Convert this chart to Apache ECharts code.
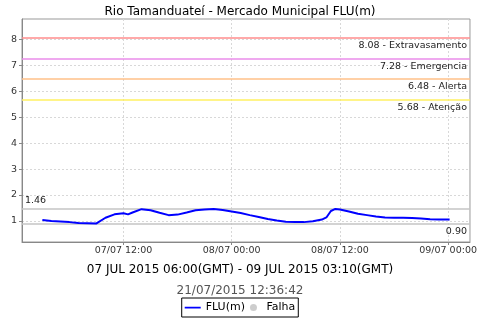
<!DOCTYPE html>
<html>
<head>
<meta charset="utf-8">
<script src="https://cdn.jsdelivr.net/npm/echarts@6/dist/echarts.min.js"></script>
<style>html,body{margin:0;padding:0;background:#fff;}#c{width:480px;height:320px;}</style>
</head>
<body>
<div id="c"></div>
<script>
// Times (local, dd/MM HH:mm) and water level FLU(m)
var times = ['07/07 03:00','07/07 04:00','07/07 05:00','07/07 06:00','07/07 07:00','07/07 08:00','07/07 09:00','07/07 10:00','07/07 11:00','07/07 12:00','07/07 12:30','07/07 13:00','07/07 14:00','07/07 15:00','07/07 16:00','07/07 17:00','07/07 18:00','07/07 19:00','07/07 20:00','07/07 21:00','07/07 22:00','07/07 23:00','08/07 00:00','08/07 01:00','08/07 02:00','08/07 03:00','08/07 04:00','08/07 05:00','08/07 06:00','08/07 07:00','08/07 08:00','08/07 09:00','08/07 10:00','08/07 10:30','08/07 11:00','08/07 11:30','08/07 12:00','08/07 13:00','08/07 14:00','08/07 15:00','08/07 16:00','08/07 17:00','08/07 18:00','08/07 19:00','08/07 20:00','08/07 21:00','08/07 22:00','08/07 23:00','09/07 00:00','09/07 00:10'];
var levels = [1.03,0.99,0.97,0.95,0.92,0.91,0.90,1.12,1.25,1.29,1.25,1.32,1.45,1.41,1.31,1.22,1.24,1.32,1.41,1.44,1.46,1.42,1.36,1.30,1.22,1.15,1.07,1.01,0.96,0.95,0.95,0.98,1.05,1.13,1.38,1.46,1.44,1.36,1.27,1.22,1.17,1.13,1.12,1.12,1.11,1.09,1.06,1.05,1.05,1.05];
var xTickHours = [12, 24, 36, 48];
var yTicks = [1, 2, 3, 4, 5, 6, 7, 8];
var thresholds = [8.08, 7.28, 6.48, 5.68];
var thresholdNames = ['Extravasamento', 'Emergencia', 'Alerta', 'Atenção'];
var thresholdColors = ['#ff8c8c', '#ea8cea', '#ffc088', '#fff060'];
var maxLevel = 1.46, minLevel = 0.90;
var titleText = 'Rio Tamanduateí - Mercado Municipal FLU(m)';
var periodText = '07 JUL 2015 06:00(GMT) - 09 JUL 2015 03:10(GMT)';
var generatedText = '21/07/2015 12:36:42';

function toHours(s) { // hours since 07/07 00:00
  var d = parseInt(s.substr(0,2),10), h = parseInt(s.substr(6,2),10), m = parseInt(s.substr(9,2),10);
  return (d - 7) * 24 + h + m / 60;
}
function pad(n){return (n<10?'0':'')+n;}
function fmtHours(v){
  var day = 7 + Math.floor(v / 24), h = Math.round(v - Math.floor(v/24)*24);
  return pad(day) + '/07 ' + pad(h) + ':00';
}
var data = times.map(function(t,i){return [toHours(t), levels[i]];});
var first = data[0][0], last = data[data.length-1][0];
var xpad = (last - first) * 0.05;
var ypad = (thresholds[0] - minLevel) * 0.1;

var FONT = 'DejaVu Sans';
function refSeries(value, color, text, pos) {
  return {
    name: 'ref' + value, type: 'line', data: [], silent: true, z: 3,
    markLine: {
      silent: true, symbol: ['none','none'], animation: false,
      lineStyle: {color: color, width: 1.5, type: 'solid', opacity: 1},
      label: {show: true, position: pos, formatter: text, color: '#222', fontSize: 9.5, fontFamily: FONT, distance: [3,3]},
      data: [{yAxis: value}]
    }
  };
}

var series = [
  {name:'FLU(m)', type:'line', data:data, symbol:'none', color:'#0000ff',
   lineStyle:{color:'#0000ff', width:2}, z:5},
  {name:'Falha', type:'scatter', data:[], symbol:'circle', color:'#c0c0c0'}
];
thresholds.forEach(function(v,i){
  series.push(refSeries(v, thresholdColors[i], v.toFixed(2) + ' - ' + thresholdNames[i], 'insideEndBottom'));
});
series.push(refSeries(maxLevel, '#c4c4c4', maxLevel.toFixed(2), 'insideStartTop'));
series.push(refSeries(minLevel, '#c4c4c4', minLevel.toFixed(2), 'insideEndBottom'));

var chart = echarts.init(document.getElementById('c'), null, {renderer:'canvas'});
chart.setOption({
  animation:false,
  backgroundColor:'#fff',
  textStyle:{fontFamily:FONT},
  title:[
    {text:titleText, left:'center', top:1, textStyle:{fontSize:12, fontWeight:'normal', color:'#000', fontFamily:FONT}},
    {text:periodText, left:'center', top:259, textStyle:{fontSize:12, fontWeight:'normal', color:'#000', fontFamily:FONT}},
    {text:generatedText, left:'center', top:280, textStyle:{fontSize:12, fontWeight:'normal', color:'#555', fontFamily:FONT}}
  ],
  legend:{
    top:298, left:'center', borderColor:'#000', borderWidth:1, padding:[4,3,4,3], itemGap:5,
    itemWidth:16, itemHeight:7, textStyle:{fontSize:11, color:'#000', fontFamily:FONT},
    data:[{name:'FLU(m)', icon:'path://M0,0 L0.001,0 M0,5 L40,5 L40,9.5 L0,9.5 Z M0,14 L0.001,14', itemStyle:{color:'#0000ff'}},
          {name:'Falha', icon:'circle', itemStyle:{color:'#c0c0c0'}}]
  },
  grid:{left:22, right:8, top:19, bottom:78, show:true, borderColor:'#999', borderWidth:1},
  xAxis:{
    type:'value', min:first - xpad, max:last + xpad,
    axisLine:{show:true, lineStyle:{color:'#888'}},
    axisTick:{show:true, length:3, customValues:xTickHours, lineStyle:{color:'#888'}},
    axisLabel:{customValues:xTickHours, formatter:fmtHours, fontSize:9.5, color:'#333', margin:4, fontFamily:FONT},
    splitLine:{show:true, lineStyle:{color:'#d8d8d8', type:[2,2]}}
  },
  yAxis:{
    type:'value', min:minLevel - ypad, max:thresholds[0] + ypad,
    axisLine:{show:true, lineStyle:{color:'#888'}},
    axisTick:{show:true, length:3, customValues:yTicks, lineStyle:{color:'#888'}},
    axisLabel:{customValues:yTicks, fontSize:9.5, color:'#333', margin:5, fontFamily:FONT},
    splitLine:{show:true, lineStyle:{color:'#d8d8d8', type:[2,2]}}
  },
  series:series
});
</script>
</body>
</html>
